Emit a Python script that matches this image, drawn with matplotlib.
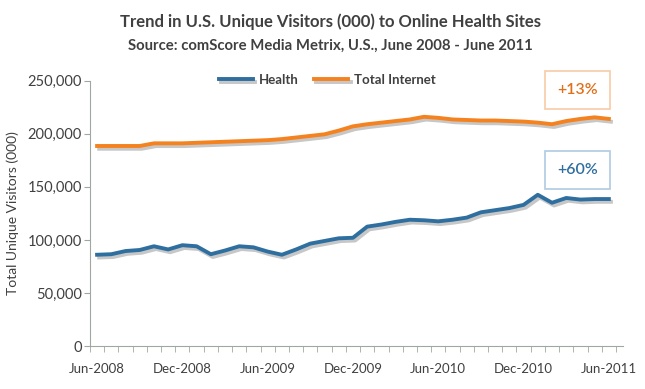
import numpy as np
import matplotlib.pyplot as plt
import matplotlib.patheffects as pe
from matplotlib.ticker import FuncFormatter

plt.rcParams['font.family'] = ['Lato', 'DejaVu Sans']

# Monthly data, Jun-2008 .. Jun-2011 (000 visitors)
health = [86, 86.5, 89.5, 90.5, 94, 91, 95, 94, 86.5, 90, 94, 93,
          89, 86, 91, 96.5, 99, 101.5, 102, 112.5, 114.5, 117, 119, 118.5,
          117.5, 119, 121, 126, 128, 130, 133, 142.5, 135, 139.5, 138, 138.5, 138.5]
total_internet = [188.5, 188.5, 188.5, 188.5, 191, 191, 191, 191.5, 192, 192.5, 193, 193.5,
                  194, 195, 196.5, 198, 199.5, 203, 207, 209, 210.5, 212, 213.5, 216,
                  215, 213.5, 213, 212.5, 212.5, 212, 211.5, 210.5, 209, 212, 214, 215.5, 214]
tick_labels = ['Jun-2008', 'Dec-2008', 'Jun-2009', 'Dec-2009', 'Jun-2010', 'Dec-2010', 'Jun-2011']
health_change = '+60%'
internet_change = '+13%'

blue = '#2F6FA0'
orange = '#F4821F'
text_gray = '#404040'
axis_gray = '#9FA8A0'

x = np.arange(len(health))
health_v = np.array(health) * 1000
internet_v = np.array(total_internet) * 1000

fig = plt.figure(figsize=(6.45, 3.89), dpi=100)
ax = fig.add_axes([0.1395, 0.1105, 0.8265, 0.682])

shadow = [pe.SimpleLineShadow(offset=(1.5, -2), shadow_color='#999999', alpha=0.55),
          pe.Normal()]
ax.plot(x, health_v, color=blue, lw=2.8, label='Health', path_effects=shadow,
        solid_joinstyle='round')
ax.plot(x, internet_v, color=orange, lw=2.8, label='Total Internet', path_effects=shadow,
        solid_joinstyle='round')

ax.set_xlim(-0.5, len(health))
ax.set_ylim(0, 250000)
ax.set_yticks(np.arange(0, 250001, 50000))
ax.yaxis.set_major_formatter(FuncFormatter(lambda v, p: f'{int(v):,}'))
ax.set_xticks(np.arange(0, len(health), 6))
ax.set_xticklabels(tick_labels)
ax.set_xticks(np.arange(-0.5, len(health) + 0.5), minor=True)
ax.tick_params(axis='x', which='major', length=0, pad=12, labelsize=9.5, colors=text_gray)
ax.tick_params(axis='x', which='minor', length=4, color=axis_gray, direction='out')
ax.tick_params(axis='y', length=4, labelsize=10.5, colors=text_gray, pad=2)
ax.tick_params(axis='y', color=axis_gray)

for s in ['top', 'right']:
    ax.spines[s].set_visible(False)
for s in ['left', 'bottom']:
    ax.spines[s].set_color(axis_gray)

ax.set_ylabel('Total Unique Visitors (000)', fontsize=10, color=text_gray, labelpad=6)

leg = ax.legend(loc='upper center', bbox_to_anchor=(0.445, 1.07), ncol=2, frameon=False,
                fontsize=9.5, handlelength=2.6, columnspacing=1.2, handletextpad=0.4)
for t in leg.get_texts():
    t.set_color(text_gray)
    t.set_fontweight('bold')

ax.text(33.8, 241000, internet_change, color='#E0701A', fontsize=11.5,
        fontweight='semibold', ha='center', va='center',
        bbox=dict(boxstyle='square,pad=0.75', fc='white', ec='#F7CBA5', lw=1.2))
ax.text(33.8, 166000, health_change, color=blue, fontsize=11.5,
        fontweight='semibold', ha='center', va='center',
        bbox=dict(boxstyle='square,pad=0.75', fc='white', ec='#AFCBE3', lw=1.2))

fig.text(0.512, 0.945, 'Trend in U.S. Unique Visitors (000) to Online Health Sites',
         ha='center', va='center', fontsize=12, fontweight='bold', color=text_gray)
fig.text(0.512, 0.882, 'Source: comScore Media Metrix, U.S., June 2008 - June 2011',
         ha='center', va='center', fontsize=10.7, fontweight='bold', color=text_gray)

fig.savefig('out.png', dpi=100)
